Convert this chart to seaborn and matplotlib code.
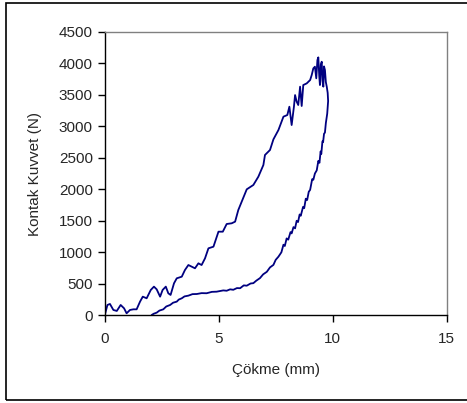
import matplotlib
matplotlib.use("Agg")
import matplotlib.pyplot as plt
import seaborn as sns
import pandas as pd
from matplotlib.patches import Rectangle

# Loading branch (deflection mm, contact force N)
load_x = [0.00, 0.12, 0.23, 0.38, 0.53, 0.70, 0.85, 0.96, 1.11, 1.26, 1.40, 1.55, 1.67,
          1.84, 2.02, 2.16, 2.28, 2.43, 2.54, 2.68, 2.79, 2.89, 3.04, 3.16, 3.38, 3.52,
          3.67, 3.82, 3.96, 4.11, 4.25, 4.40, 4.55, 4.77, 4.99, 5.18, 5.35, 5.57, 5.72,
          5.86, 6.01, 6.23, 6.52, 6.74, 6.96, 7.03, 7.25, 7.40, 7.62, 7.84, 8.01, 8.10,
          8.20, 8.30, 8.35, 8.42, 8.49, 8.57, 8.64, 8.71, 8.86, 9.01, 9.08, 9.15, 9.22,
          9.28, 9.33, 9.37, 9.41, 9.44, 9.48, 9.52, 9.55, 9.59, 9.62, 9.66, 9.70, 9.74,
          9.78]
load_y = [0, 164, 180, 85, 69, 164, 111, 32, 85, 95, 95, 217, 296,
          270, 402, 455, 412, 296, 402, 455, 349, 323, 508, 587, 613, 719,
          798, 772, 746, 825, 798, 904, 1063, 1089, 1327, 1327, 1449, 1460, 1486,
          1671, 1803, 1999, 2068, 2200, 2385, 2544, 2623, 2792, 2940, 3152, 3178, 3310,
          3019, 3310, 3495, 3390, 3337, 3628, 3321, 3654, 3680, 3733, 3813, 3918, 3945,
          3760, 4050, 4093, 3800, 3654, 3980, 4024, 3720, 3628, 3950, 3892, 3700, 3628,
          3530]

# Unloading branch
unload_x = [9.78, 9.80, 9.76, 9.70, 9.66, 9.62, 9.58, 9.55, 9.50, 9.47, 9.42, 9.37,
            9.30, 9.22, 9.15, 9.10, 9.01, 8.95, 8.88, 8.82, 8.75, 8.70, 8.60, 8.55,
            8.48, 8.42, 8.35, 8.28, 8.20, 8.15, 8.05, 7.98, 7.90, 7.84, 7.75, 7.62,
            7.50, 7.40, 7.25, 7.11, 6.95, 6.81, 6.65, 6.52, 6.40, 6.23, 6.10, 5.94,
            5.80, 5.64, 5.50, 5.35, 5.20, 4.91, 4.70, 4.47, 4.25, 4.04, 3.85, 3.67,
            3.50, 3.38, 3.25, 3.16, 3.00, 2.87, 2.70, 2.57, 2.40, 2.28, 2.15, 2.06]
unload_y = [3530, 3400, 3200, 3050, 2900, 2880, 2750, 2760, 2560, 2600, 2420, 2450,
            2300, 2250, 2150, 2160, 1990, 1960, 1830, 1850, 1700, 1720, 1580, 1600,
            1480, 1500, 1380, 1400, 1300, 1320, 1200, 1220, 1100, 1120, 1000, 930,
            880, 800, 760, 690, 650, 590, 550, 510, 505, 470, 475, 430,
            432, 405, 412, 390, 395, 375, 372, 350, 352, 338, 336, 312,
            300, 270, 250, 217, 200, 164, 140, 95, 75, 42, 25, 5]

x_ticks = [0, 5, 10, 15]
y_ticks = [0, 500, 1000, 1500, 2000, 2500, 3000, 3500, 4000, 4500]

sns.set_style("white")
plt.rcParams['font.family'] = ['Liberation Sans', 'DejaVu Sans']

df = pd.DataFrame({"x": load_x + unload_x, "y": load_y + unload_y})

fig = plt.figure(figsize=(4.67, 4.03), dpi=100)
fig.patches.append(Rectangle((6 / 467, 3 / 403), 470 / 467, 397 / 403,
                             transform=fig.transFigure, fill=False,
                             edgecolor="black", linewidth=1.2))
ax = fig.add_axes([0.2242, 0.2176, 0.7323, 0.7037])

sns.lineplot(data=df, x="x", y="y", sort=False, estimator=None,
             color="#000080", linewidth=1.3, ax=ax)

ax.set_xlim(0, 15)
ax.set_ylim(0, 4500)
ax.set_xticks(x_ticks)
ax.set_yticks(y_ticks)
ax.set_xlabel("Çökme (mm)", fontsize=11, labelpad=12)
ax.set_ylabel("Kontak Kuvvet (N)", fontsize=11, labelpad=12)
ax.tick_params(axis="both", direction="out", length=5, width=1, labelsize=11,
               bottom=True, left=True, color="black")
ax.tick_params(axis="x", pad=7)

for side in ["top", "right"]:
    ax.spines[side].set_color("#808080")
    ax.spines[side].set_linewidth(1.0)
for side in ["left", "bottom"]:
    ax.spines[side].set_color("black")
    ax.spines[side].set_linewidth(1.0)

fig.savefig("out.png", dpi=100)
